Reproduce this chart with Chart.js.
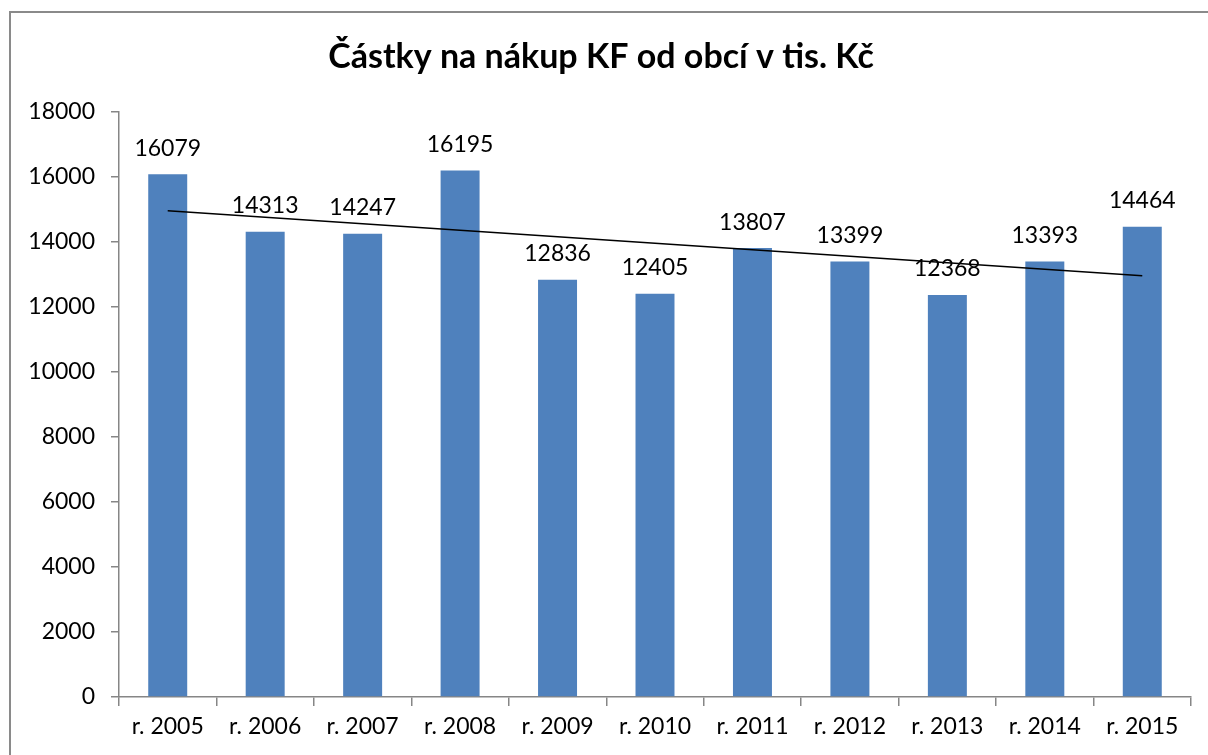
<!DOCTYPE html>
<html>
<head>
<meta charset="utf-8">
<script src="https://cdn.jsdelivr.net/npm/chart.js@4/dist/chart.umd.min.js"></script>
<style>
    html, body { margin: 0; padding: 0; background: #fff; overflow: hidden; }
    #frame {
        position: absolute;
        left: 9px;
        top: 11px;
        width: 1212px;
        height: 744px;
        border-left: 2px solid #8a8a8a;
        border-top: 2px solid #8a8a8a;
    }
    #chart-box { position: absolute; left: 0; top: 0; width: 1210px; height: 742px; }
</style>
</head>
<body>
<div id="frame">
    <div id="chart-box"><canvas id="kf-chart"></canvas></div>
</div>
<script>
const TITLE = 'Částky na nákup KF od obcí v tis. Kč';
const YEARS = ['r. 2005', 'r. 2006', 'r. 2007', 'r. 2008', 'r. 2009', 'r. 2010',
    'r. 2011', 'r. 2012', 'r. 2013', 'r. 2014', 'r. 2015'];
const AMOUNTS = [16079, 14313, 14247, 16195, 12836, 12405, 13807, 13399, 12368, 13393, 14464];
// linear trend: only the two ends are drawn
const TREND = [14955, null, null, null, null, null, null, null, null, null, 12955];

const FONT = 'Lato, "Open Sans", sans-serif';
const AXIS_GREY = '#868686';

const valueLabels = {
    id: 'valueLabels',
    afterDatasetsDraw(chart) {
        const { ctx } = chart;
        const meta = chart.getDatasetMeta(1);
        ctx.save();
        ctx.font = `23px ${FONT}`;
        ctx.fillStyle = '#000';
        ctx.textAlign = 'center';
        ctx.textBaseline = 'middle';
        meta.data.forEach((bar, i) => {
            ctx.fillText(String(AMOUNTS[i]), bar.x, bar.y - 26);
        });
        ctx.restore();
    }
};

new Chart(document.getElementById('kf-chart'), {
    type: 'bar',
    data: {
        labels: YEARS,
        datasets: [
            {
                type: 'line',
                label: 'Trend',
                data: TREND,
                spanGaps: true,
                borderColor: '#000',
                borderWidth: 1.6,
                pointRadius: 0,
                order: 0
            },
            {
                label: 'Částka',
                data: AMOUNTS,
                backgroundColor: '#4F81BD',
                borderWidth: 0,
                barPercentage: 0.4,
                categoryPercentage: 1,
                order: 1
            }
        ]
    },
    options: {
        responsive: true,
        maintainAspectRatio: false,
        animation: false,
        layout: { padding: { left: 0, right: 30, top: 0, bottom: 0 } },
        plugins: {
            legend: { display: false },
            tooltip: { enabled: false },
            title: {
                display: true,
                text: TITLE,
                color: '#000',
                font: { family: FONT, size: 34, weight: 'bold', lineHeight: 1.2 },
                padding: { top: 24, bottom: 34 }
            }
        },
        scales: {
            x: {
                offset: true,
                border: { color: AXIS_GREY, width: 1.5 },
                grid: {
                    offset: true,
                    drawOnChartArea: false,
                    drawTicks: true,
                    tickLength: 9,
                    color: AXIS_GREY,
                    lineWidth: 1.5
                },
                ticks: {
                    color: '#000',
                    font: { family: FONT, size: 23 },
                    padding: 7,
                    maxRotation: 0,
                    autoSkip: false
                },
                afterFit: (scale) => { scale.height = 58; }
            },
            y: {
                min: 0,
                max: 18000,
                border: { color: AXIS_GREY, width: 1.5 },
                grid: {
                    drawOnChartArea: false,
                    drawTicks: true,
                    tickLength: 8,
                    color: AXIS_GREY,
                    lineWidth: 1.5
                },
                ticks: {
                    stepSize: 2000,
                    color: '#000',
                    font: { family: FONT, size: 23 },
                    padding: 16,
                    callback: (value) => String(value)
                },
                afterFit: (scale) => { scale.width = 108; }
            }
        }
    },
    plugins: [valueLabels]
});
</script>
</body>
</html>
